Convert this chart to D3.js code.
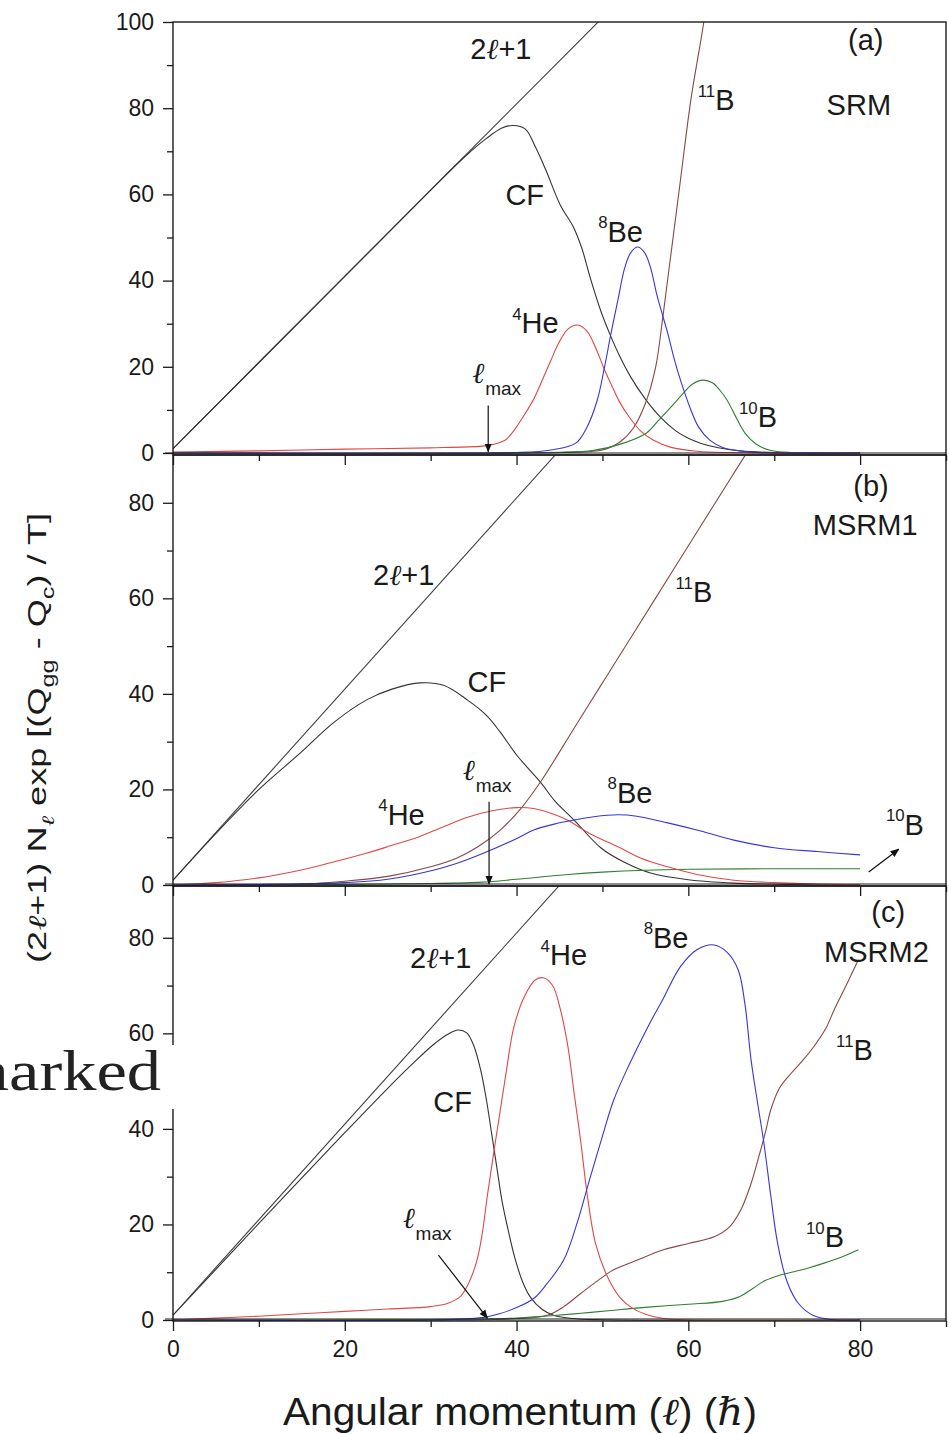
<!DOCTYPE html>
<html>
<head>
<meta charset="utf-8">
<script src="https://cdn.jsdelivr.net/npm/d3@7"></script>
<style>
body { margin: 0; background: #fff; }
svg { display: block; }
text { font-family: "Liberation Sans", Arial, sans-serif; fill: #1a1a1a; }
</style>
</head>
<body>
<script>
// ---- data: [angular momentum l, value] ----
const lTicks = [0, 20, 40, 60, 80];
const lMinor = [10, 30, 50, 70, 90];

// (a) SRM
const a_twoL = [[0, 1], [45, 91], [60, 121]];
const a_CF = [[0,1],[10,21],[20,41],[30,61],[34,68.8],[36.5,73],[38.3,75.4],[39.6,76],[41,75.2],[42.2,71],[43.4,65.7],[45.1,57.5],[46.6,52.5],[47.6,47.5],[48.6,40.5],[49.8,33],[50.9,27.4],[52,22.5],[53.3,17.6],[55,12.5],[56.8,8.2],[58.5,5.2],[60,3.4],[61.5,2.2],[63.5,1.2],[66,0.5],[70,0.1],[80,0]];
const a_He4 = [[0,0.2],[10,0.5],[20,0.9],[30,1.2],[36,1.6],[37.3,2],[38.7,3],[39.8,5.5],[40.8,8.5],[42,12.5],[42.8,16],[44,21.5],[44.9,25.5],[46,28.8],[47.1,29.7],[48.2,28.3],[49.4,23.5],[50.2,19.5],[51,16],[52,11.8],[53.1,8.4],[54.5,5],[55.9,3],[58,1.3],[61,0.4],[65,0.1],[80,0]];
const a_Be8 = [[0,0],[40,0.1],[44,0.7],[46.9,2.3],[48.2,6],[49.4,12.3],[50.2,19.5],[51,27.8],[51.8,35.5],[52.6,43],[53.3,46.5],[54.1,47.8],[54.9,46.5],[55.6,43],[56.3,37],[57,32],[57.6,27.8],[58.4,21.5],[59.2,16.2],[60.2,10.5],[61.2,6],[62.5,3],[64,1.3],[65.3,0.7],[68,0.1],[80,0]];
const a_B10 = [[0,0],[45,0.1],[49,0.6],[52,2],[55.1,4.6],[56.5,7.5],[58,10.7],[59.3,13.6],[60.5,16],[61.7,16.9],[62.8,16.3],[63.7,14.5],[64.5,12.3],[65.5,8.5],[66.6,4.6],[67.8,2.2],[69.4,0.7],[72,0.1],[80,0]];
const a_B11 = [[0,0],[40,0.05],[46,0.2],[50,0.7],[52,2.5],[53.5,5.5],[55,11.5],[56.2,20],[57,31],[57.9,45],[59,62],[60.3,82],[61.8,100],[63,118]];

// (b) MSRM1
const b_twoL = [[0, 1], [45, 91], [60, 121]];
const b_CF = [[0,1],[5,10.8],[10,20],[14.8,27.6],[18.7,34],[22.6,38.8],[25.5,41],[28.8,42.3],[31.5,41.8],[34.3,38.7],[36.5,35.5],[38.1,32],[40.1,27],[42.8,21.5],[44.5,17.5],[46.7,13.6],[49.8,7.8],[52.5,4.8],[55.6,2.5],[60,1.1],[65.3,0.4],[72,0.1],[80,0]];
const b_He4 = [[0,0],[5,0.5],[10,1.5],[14.8,3.1],[18,4.5],[22.6,6.7],[25.5,8.3],[28.5,10],[31.5,12.2],[34.3,14.2],[37,15.5],[40,16.2],[42,16],[44,15],[45.9,13.6],[48.5,10.8],[51.8,8],[54.5,5.6],[57.6,3.8],[61,2.2],[65.3,1],[70,0.5],[75,0.2],[80,0.1]];
const b_Be8 = [[0,0],[10,0.1],[20,0.5],[25,1.2],[30.3,3.1],[33,4.5],[36.2,6.7],[40.1,9.8],[42,11.5],[44.5,12.8],[46.7,13.6],[49,14.3],[51.8,14.7],[54,14.4],[57.6,13],[61,11.5],[65.3,9.4],[70,7.8],[75,7],[80,6.3]];
const b_B10 = [[0,0],[20,0.1],[30,0.3],[36,0.6],[40,1.2],[46,2.2],[50,2.7],[55,3.1],[60,3.3],[70,3.4],[80,3.4]];
const b_B11 = [[0,0],[15,0.2],[20,0.8],[25,1.8],[30,3.8],[33,5.6],[35.5,8],[38.1,11.5],[40.5,16],[42.8,21.6],[46.7,32.8],[50,42.3],[53.7,52.9],[58.4,66.4],[61.5,75.3],[66.5,89.6],[70,99.5]];

// (c) MSRM2
const c_twoL = [[0, 1], [45, 91], [60, 121]];
const c_CF = [[0,1],[10,20.2],[20,39.2],[25,48.5],[28,53.8],[30.3,57.6],[32,59.8],[33.2,60.7],[34.2,60.1],[35,57.5],[35.8,52.5],[36.5,46],[37.1,39],[37.7,32],[38.3,25],[39,19],[39.8,13],[40.7,8],[41.6,4.8],[43,2.2],[44.3,1],[46.5,0.3],[50,0.05],[80,0]];
const c_He4 = [[0,0],[5,0.4],[10,0.8],[15,1.3],[20,1.8],[25,2.3],[30,2.8],[32,3.5],[33.5,5],[34.5,8],[35.4,12.6],[36,18],[36.6,26],[37.8,40.4],[38.8,52],[39.7,61.4],[41,68],[42.2,71.2],[43.2,71.6],[44.2,70],[45.1,65],[46,57],[46.7,47.5],[47.5,37],[48.2,26.6],[49.2,16],[50.6,9],[52,4.8],[53.3,2.7],[55,1.2],[57.1,0.3],[60,0],[80,0]];
const c_Be8 = [[0,0],[30,0],[36,0.5],[38,1.3],[40,2.6],[42,4.5],[43.5,7.5],[45.5,12.6],[47,20],[48.6,30],[50,38.5],[51.3,46],[53,53],[55.3,61.4],[57,67],[59.1,74],[61,77.5],[63,78.5],[64.5,77],[65.8,73.3],[66.6,66],[67.3,54.5],[68.1,45],[68.8,37],[69.6,26],[70.4,16],[71.5,8],[72.8,3.5],[74.5,1],[76.6,0.1],[80,0]];
const c_B10 = [[0,0],[30,0.1],[40,0.4],[44,0.9],[47.5,1.4],[51,2],[55.3,2.7],[60,3.3],[64,3.9],[66,4.9],[67.5,6.6],[69,8.3],[70.5,9.3],[72,10],[74,10.9],[75.8,11.9],[78,13.3],[79.8,14.7]];
const c_B11 = [[0,0],[35,0],[40,0.3],[43.6,1],[45.5,2.8],[47.5,5.6],[49.5,8.3],[51.3,10.5],[54,12.5],[57.1,14.7],[60,16],[63,17.4],[64.8,19.5],[66.1,23],[67.2,28],[68.1,33.5],[69,39.5],[69.6,44],[70.6,48.5],[72,51.7],[73.4,54.5],[74.6,57.2],[76,61],[77,65],[78.5,70.5],[79.8,75.4]];

const colors = { twoL: '#404040', CF: '#333333', He4: '#e04848', Be8: '#3636d8', B10: '#2f7f2f', B11: '#8a4646' };

// label text parts: [string, mode]  0 normal, 1 sup, -1 sub, 2 italic l, 3 italic l as subscript
const N = 0, SUP = 1, SUB = -1, ELL = 2, SUBELL = 3;
const SERIF_IT = '"DejaVu Serif", "Liberation Serif", serif';

/**
 * layout
 */
const W = 949, H = 1434;
const svg = d3.select('body').append('svg').attr('width', W).attr('height', H);
const defs = svg.append('defs');

const x = d3.scaleLinear().domain([0, 90]).range([173, 946]);

const panels = [
    {
        key: 'a', top: 22, bottom: 455,
        y: d3.scaleLinear().domain([0, 100]).range([453, 22]),
        yTicks: [0, 20, 40, 60, 80, 100], yMinor: [10, 30, 50, 70, 90],
        series: [['twoL', a_twoL], ['CF', a_CF], ['B11', a_B11], ['B10', a_B10], ['He4', a_He4], ['Be8', a_Be8]],
        labels: [
            [34.6, 91.5, [['2', N], ['ℓ', ELL], ['+1', N]]],
            [78.6, 93.5, [['(a)', N]]],
            [76.1, 78.4, [['SRM', N]]],
            [61.1, 79.6, [['11', SUP], ['B', N]]],
            [38.7, 57.5, [['CF', N]]],
            [49.5, 49, [['8', SUP], ['Be', N]]],
            [39.5, 27.8, [['4', SUP], ['He', N]]],
            [65.9, 6, [['10', SUP], ['B', N]]]
        ],
        lmax: [34.9, 16.2],
        arrows: [[36.7, 11, 36.7, 0.3]]
    },
    {
        key: 'b', top: 455, bottom: 886,
        y: d3.scaleLinear().domain([0, 90]).range([885, 455]),
        yTicks: [0, 20, 40, 60, 80], yMinor: [10, 30, 50, 70],
        series: [['twoL', b_twoL], ['CF', b_CF], ['B11', b_B11], ['B10', b_B10], ['He4', b_He4], ['Be8', b_Be8]],
        labels: [
            [79.2, 81.4, [['(b)', N]]],
            [74.5, 73.3, [['MSRM1', N]]],
            [23.3, 62.8, [['2', N], ['ℓ', ELL], ['+1', N]]],
            [58.5, 59.2, [['11', SUP], ['B', N]]],
            [34.3, 40.4, [['CF', N]]],
            [23.9, 12.6, [['4', SUP], ['He', N]]],
            [50.6, 17.2, [['8', SUP], ['Be', N]]],
            [83, 10.5, [['10', SUP], ['B', N]]]
        ],
        lmax: [33.8, 22],
        arrows: [[36.8, 17.4, 36.8, 0.2], [81, 2.7, 84.5, 7.5]]
    },
    {
        key: 'c', top: 886, bottom: 1321,
        y: d3.scaleLinear().domain([0, 90]).range([1320, 890]),
        yTicks: [0, 20, 40, 60, 80], yMinor: [10, 30, 50, 70],
        series: [['twoL', c_twoL], ['CF', c_CF], ['B11', c_B11], ['B10', c_B10], ['He4', c_He4], ['Be8', c_Be8]],
        labels: [
            [81.3, 83.3, [['(c)', N]]],
            [75.8, 74.9, [['MSRM2', N]]],
            [27.6, 73.7, [['2', N], ['ℓ', ELL], ['+1', N]]],
            [42.8, 74.3, [['4', SUP], ['He', N]]],
            [54.8, 77.9, [['8', SUP], ['Be', N]]],
            [30.3, 43.5, [['CF', N]]],
            [77.2, 54.4, [['11', SUP], ['B', N]]],
            [73.7, 15.3, [['10', SUP], ['B', N]]]
        ],
        lmax: [26.8, 19.3],
        arrows: [[30.9, 13.6, 36.6, 0.4]],
        xLabels: true
    }
];

defs.append('marker')
    .attr('id', 'head')
    .attr('viewBox', '0 0 10 10')
    .attr('refX', 9).attr('refY', 5)
    .attr('markerWidth', 9).attr('markerHeight', 9)
    .attr('markerUnits', 'userSpaceOnUse')
    .attr('orient', 'auto')
    .append('path').attr('d', 'M0,1 L10,5 L0,9 Z').attr('fill', '#111');

// rich text: superscripts, subscripts and the script l
function addParts(t, parts, size) {
    let shift = 0;
    parts.forEach(([s, m]) => {
        const sp = t.append('tspan').text(s);
        let target = 0, fs = size;
        if (m === SUP) { target = -size * 0.46; fs = size * 0.58; }
        if (m === SUB || m === SUBELL) { target = size * 0.32; fs = size * 0.7; }
        if (m === ELL || m === SUBELL) sp.style('font-family', SERIF_IT).style('font-style', 'italic');
        sp.attr('font-size', fs).attr('dy', target - shift);
        shift = target;
    });
    return t;
}

const smooth = d3.line().curve(d3.curveCatmullRom.alpha(0.5));
const straight = d3.line();

panels.forEach(p => {
    const g = svg.append('g').attr('class', 'panel-' + p.key);
    const clipId = 'clip-' + p.key;
    defs.append('clipPath').attr('id', clipId)
        .append('rect')
        .attr('x', x(0)).attr('y', p.top)
        .attr('width', x(90) - x(0)).attr('height', p.bottom - p.top);

    // curves
    const cg = g.append('g').attr('clip-path', `url(#${clipId})`);
    p.series.forEach(([name, pts]) => {
        const gen = name === 'twoL' ? straight : smooth;
        cg.append('path')
            .attr('d', gen.x(d => x(d[0])).y(d => p.y(d[1]))(pts))
            .attr('fill', 'none')
            .attr('stroke', colors[name])
            .attr('stroke-width', 1.1);
    });

    // frame
    g.append('rect')
        .attr('x', x(0)).attr('y', p.top)
        .attr('width', x(90) - x(0)).attr('height', p.bottom - p.top)
        .attr('fill', 'none').attr('stroke', '#1a1a1a').attr('stroke-width', 1.4);
    g.append('line')
        .attr('x1', x(0) - 8).attr('x2', x(90))
        .attr('y1', p.bottom - 2).attr('y2', p.bottom - 2)
        .attr('stroke', '#1a1a1a').attr('stroke-width', 1.2);

    // y axis
    const ya = g.append('g').attr('transform', `translate(${x(0)},0)`)
        .call(d3.axisLeft(p.y).tickValues(p.yTicks).tickSize(10).tickPadding(9).tickFormat(d3.format('d')));
    ya.select('.domain').remove();
    ya.selectAll('text').attr('font-size', 23).attr('fill', '#1a1a1a');
    ya.selectAll('line').attr('stroke', '#1a1a1a').attr('stroke-width', 1.3);
    const ym = g.append('g').attr('transform', `translate(${x(0)},0)`)
        .call(d3.axisLeft(p.y).tickValues(p.yMinor).tickSize(6).tickFormat(''));
    ym.select('.domain').remove();
    ym.selectAll('line').attr('stroke', '#1a1a1a').attr('stroke-width', 1.3);

    // x axis at the bottom of each panel
    const xa = g.append('g').attr('transform', `translate(0,${p.bottom})`)
        .call(d3.axisBottom(x).tickValues(lTicks).tickSize(10).tickPadding(10)
            .tickFormat(p.xLabels ? d3.format('d') : ''));
    xa.select('.domain').remove();
    xa.selectAll('text').attr('font-size', 23).attr('fill', '#1a1a1a');
    xa.selectAll('line').attr('stroke', '#1a1a1a').attr('stroke-width', 1.3);
    const xm = g.append('g').attr('transform', `translate(0,${p.bottom})`)
        .call(d3.axisBottom(x).tickValues(lMinor).tickSize(6).tickFormat(''));
    xm.select('.domain').remove();
    xm.selectAll('line').attr('stroke', '#1a1a1a').attr('stroke-width', 1.3);

    // annotations
    p.labels.forEach(([lx, ly, parts]) => {
        const t = g.append('text').attr('x', x(lx)).attr('y', p.y(ly)).attr('font-size', 29);
        addParts(t, parts, 29);
    });

    const lm = g.append('text').attr('x', x(p.lmax[0])).attr('y', p.y(p.lmax[1]));
    lm.append('tspan').text('ℓ')
        .style('font-family', SERIF_IT).style('font-style', 'italic').style('font-weight', 'bold')
        .attr('font-size', 29);
    lm.append('tspan').text('max').attr('font-size', 19).attr('dy', 12);

    p.arrows.forEach(([l1, v1, l2, v2]) => {
        g.append('line')
            .attr('x1', x(l1)).attr('y1', p.y(v1))
            .attr('x2', x(l2)).attr('y2', p.y(v2))
            .attr('stroke', '#111').attr('stroke-width', 1.2)
            .attr('marker-end', 'url(#head)');
    });
});

// axis titles
const yt = svg.append('text')
    .attr('transform', 'translate(46,738) rotate(-90)')
    .attr('text-anchor', 'middle')
    .attr('font-size', 25)
    .attr('textLength', 450)
    .attr('lengthAdjust', 'spacingAndGlyphs');
addParts(yt, [['(2', N], ['ℓ', ELL], ['+1) N', N], ['ℓ', SUBELL], [' exp [(Q', N], ['gg', SUB], [' - Q', N], ['c', SUB], [') / T]', N]], 25);

const xt = svg.append('text')
    .attr('x', 520).attr('y', 1425)
    .attr('text-anchor', 'middle')
    .attr('font-size', 38)
    .attr('textLength', 474)
    .attr('lengthAdjust', 'spacingAndGlyphs');
addParts(xt, [['Angular momentum (', N], ['ℓ', ELL], [') (', N], ['ℏ', ELL], [')', N]], 38);

// stray text fragment from the page behind the figure (cut at the left edge)
svg.append('rect').attr('x', 0).attr('y', 1045).attr('width', 175).attr('height', 64).attr('fill', '#fff');
svg.append('g')
    .attr('transform', 'translate(161,1090) scale(1.18,1)')
    .append('text')
    .attr('x', 0).attr('y', 0)
    .attr('text-anchor', 'end')
    .attr('font-size', 58)
    .style('font-family', '"Liberation Serif", "Times New Roman", serif')
    .style('fill', '#222')
    .text('remarked');
</script>
</body>
</html>
